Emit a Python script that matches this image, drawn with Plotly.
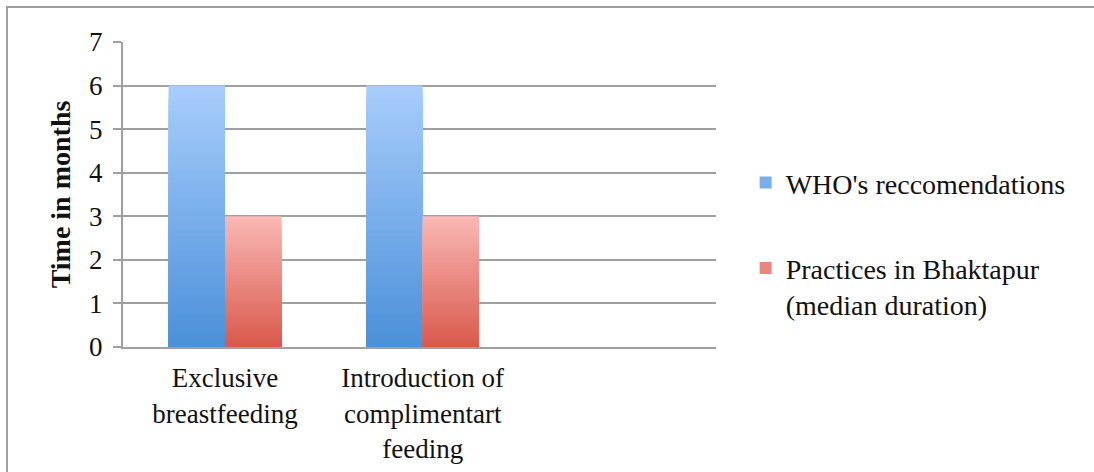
import plotly.graph_objects as go

# Chart data
categories = ["Exclusive<br>breastfeeding", "Introduction of<br>complimentart<br>feeding", " "]
who_values = [6, 6, None]
bhaktapur_values = [3, 3, None]
series_names = ["WHO's reccomendations", "Practices in Bhaktapur<br>(median duration)"]
y_ticks = [0, 1, 2, 3, 4, 5, 6, 7]

FONT = "Liberation Serif"
N_STEPS = 40  # vertical gradient resolution


def blend(c_bottom, c_top, t):
    r, g, b = (round(a + (bb - a) * t) for a, bb in zip(c_bottom, c_top))
    return f"rgb({r},{g},{b})"


# (bottom colour, top colour) for each series
gradients = [((74, 144, 217), (168, 205, 252)),
             ((217, 88, 75), (250, 184, 181))]

fig = go.Figure()

for s, (values, name, (c_lo, c_hi)) in enumerate(
        zip([who_values, bhaktapur_values], series_names, gradients)):
    # Overlapping bars of decreasing height in the same slot give a
    # smooth light-to-dark fill from the top of each bar to its base.
    for k in range(N_STEPS):
        frac = (N_STEPS - k) / N_STEPS
        t = (N_STEPS - k - 0.5) / N_STEPS
        heights = [v * frac if v is not None else None for v in values]
        fig.add_trace(go.Bar(
            x=categories,
            y=heights,
            name=name,
            offsetgroup=f"s{s}",
            legendgroup=f"s{s}",
            showlegend=(k == N_STEPS // 2),
            marker=dict(color=blend(c_lo, c_hi, t), line=dict(width=0)),
            hoverinfo="skip" if k else "x+y",
        ))

# Outer frame of the chart area
fig.add_shape(type="rect", xref="paper", yref="paper",
              x0=-0.1956, x1=1.7, y0=-0.6, y1=1.1148,
              line=dict(color="#a0a0a0", width=2), fillcolor="rgba(0,0,0,0)",
              layer="below")

fig.update_layout(
    width=1094, height=472,
    margin=dict(l=123, r=378, t=42, b=125),
    paper_bgcolor="white", plot_bgcolor="white",
    barmode="group", bargap=0.43, bargroupgap=0,
    font=dict(family=FONT, color="#111111"),
    legend=dict(
        x=1.05, y=0.62, xanchor="left", yanchor="top",
        valign="top", tracegroupgap=46,
        font=dict(family=FONT, size=28, color="#111111"),
        itemwidth=30,
    ),
    xaxis=dict(
        type="category", showgrid=False, ticks="",
        showline=True, linecolor="#a0a0a0", linewidth=2,
        tickfont=dict(family=FONT, size=27, color="#111111"),
        ticklabelstandoff=6, automargin=False,
        range=[-0.516, 2.484],
    ),
    yaxis=dict(
        range=[0, 7], tickvals=y_ticks,
        showgrid=True, gridcolor="#a0a0a0", gridwidth=2,
        showline=True, linecolor="#a0a0a0", linewidth=2,
        ticks="outside", ticklen=8, tickcolor="#a0a0a0", tickwidth=2,
        ticklabelstandoff=5, automargin=False,
        tickfont=dict(family=FONT, size=27, color="#111111"),
        title=dict(text="<b>Time in months</b>", standoff=10,
                   font=dict(family=FONT, size=28, color="#111111")),
        zeroline=False,
    ),
)

fig.write_html("out.html")
